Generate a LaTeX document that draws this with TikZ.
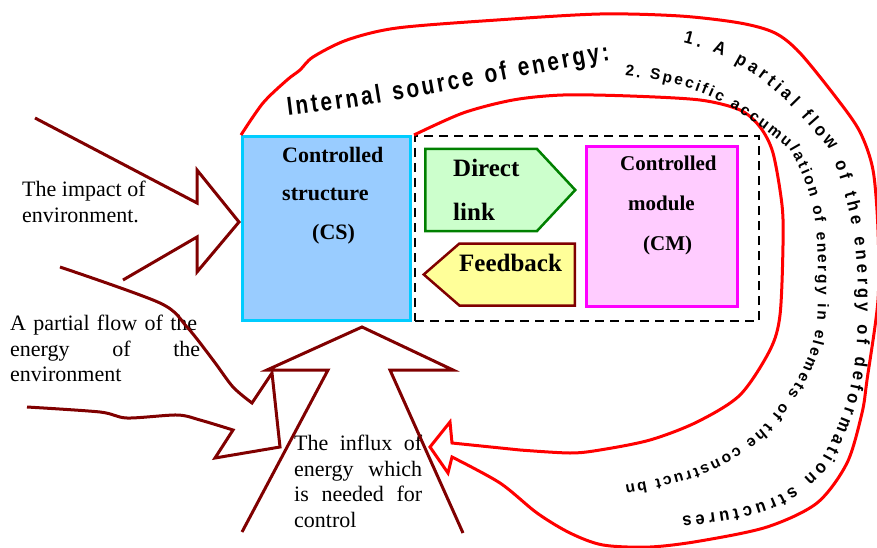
\documentclass[tikz,border=0pt]{standalone}
\usepackage{fontspec}
\setmainfont{Liberation Serif}
\setsansfont{Liberation Sans}
\usepackage{xcolor}
\usetikzlibrary{shapes.symbols,positioning,decorations.text}

\definecolor{csfill}{HTML}{99CCFF}
\definecolor{csedge}{HTML}{00CCFF}
\definecolor{linkfill}{HTML}{CCFFCC}
\definecolor{linkedge}{HTML}{008000}
\definecolor{fbfill}{HTML}{FFFF99}
\definecolor{darkred}{HTML}{800000}
\definecolor{cmfill}{HTML}{FFCCFF}
\definecolor{cmedge}{HTML}{FF00FF}

\newfontfamily\bandnarrow[FakeStretch=0.8]{Liberation Sans}
\newfontfamily\bandmedium[FakeStretch=0.92]{Liberation Sans}
\newcommand{\bandbig}{\bandnarrow\bfseries\fontsize{26}{26}\selectfont}
\newcommand{\bandmid}{\bandmedium\bfseries\fontsize{18}{18}\selectfont}
\newcommand{\bandsmall}{\sffamily\bfseries\fontsize{15.5}{15.5}\selectfont}

\begin{document}
\begin{tikzpicture}[x=1pt, y=-1pt,
    box/.style={rectangle, draw, line width=3pt, inner sep=0pt},
    signbox/.style={signal, draw, line width=2.5pt, inner sep=0pt},
    boxtext/.style={font=\bfseries\fontsize{22}{38.5}\selectfont, align=left, inner sep=0pt, anchor=north west},
    plaintext/.style={font=\fontsize{22}{25.5}\selectfont, align=left, inner sep=0pt, anchor=north west},
    flow/.style={draw=darkred, line width=3pt},
    loop/.style={draw=red, line width=3pt},
    bandtext/.style={decorate, decoration={text along path, text align={fit to path}, text={#1}}}
]
\useasboundingbox (0,0) rectangle (877,548);

% Control loop: structure, links, module
\node[box, draw=black, line width=2pt, dash pattern=on 9pt off 6pt, minimum width=344pt, minimum height=185pt] (loopbox) at (587,228.5) {};
\node[box, draw=csedge, fill=csfill, minimum width=168pt, minimum height=184pt] (cs) at (326.5,228.5) {};
\node[box, draw=cmedge, fill=cmfill, minimum width=151pt, minimum height=160pt] (cm) at (662,226.5) {};
\node[signbox, draw=linkedge, fill=linkfill, signal to=east, signal pointer angle=94, minimum width=150pt, minimum height=82pt, anchor=west] (direct) at (424,190) {};
\node[signbox, draw=darkred, fill=fbfill, signal to=west, signal pointer angle=82, minimum width=151pt, minimum height=62pt, anchor=east] (feedback) at (576,274.5) {};

\node[boxtext, below right=12pt and 41pt of cs.north west] (cstext) {Controlled\\structure\\\hspace*{30pt}(CS)};
\node[boxtext, font=\bfseries\fontsize{25}{44}\selectfont] (directtext) at (453,159) {Direct\\link};
\node[boxtext, font=\bfseries\fontsize{25}{25}\selectfont] (fbtext) at (459,254) {Feedback};
\node[boxtext, font=\bfseries\fontsize{21}{40}\selectfont] (cmtext) at (620,156) {Controlled\\\hspace*{8pt}module\\\hspace*{23pt}(CM)};

% Environment side
\node[plaintext] (impact) at (22,181) {The impact of\\environment.};
\node[plaintext, text width=190pt] (partial) at (10,315) {A partial flow of the\\energy\hfill of\hfill the\\environment};
\node[plaintext, text width=128pt] (influx) at (294,435) {The\hfill influx\hfill of\\energy\hfill which\\is\hfill needed\hfill for\\control};

% Block arrows from outside
\draw[flow] (35,118) -- (197,203) -- (197,170) -- (239,222) -- (197,272) -- (197,237) -- (123,280);
\draw[flow] plot[smooth] coordinates {(60,267) (160,303) (187,327) (213,360) (233,387) (252,403)}
    -- (272,373) -- (280,447) -- (215,458)
    -- plot[smooth] coordinates {(233,430) (200,420) (177,415) (127,418) (100,412) (27,407)};
\draw[flow] (242,532) -- (328,370) -- (267,370) -- (362,327) -- (453,370) -- (390,370) -- (463,533);

% Internal source of energy (band around the loop)
\draw[loop] plot[smooth] coordinates {(cs.north west) (263,103) (287,80) (300,70) (313,57) (347,40) (397,28)
      (497,20) (600,14) (680,16) (740,23) (775,33) (800,53) (838,100) (860,132) (873,170) (878,230)
      (878,300) (867,380) (862,413) (847,463) (817,503) (767,527) (700,541) (650,547) (603,545)
      (570,533) (537,513) (500,483) (452,457)}
    -- (448,473) -- (430,447) -- (450,422) -- (452,443)
    -- plot[smooth] coordinates {(520,450) (570,453) (600,450) (650,440) (697,422) (740,395) (770,350)
      (780,315) (783,245) (782,205) (773,153) (760,127) (740,110) (700,100) (630,96) (563,95)
      (513,100) (463,113) (loopbox.north west)};

\begin{scope}[y=1pt]
\path[bandtext={|\bandbig|Internal source of energy:}]
    (288,-116) to[out=7, in=190] (610,-60);
\path[bandtext={|\bandmid|1. A partial flow of the energy of deformation structures}]
    (683,-43) to[out=-14, in=130] (830,-150) to[out=-70, in=90] (858,-300)
    to[out=-90, in=60] (820,-462) to[out=-130, in=7] (682,-517);
\path[bandtext={|\bandsmall|2. Specific accumulation of energy in elemets of the construct bn}]
    (625,-76) to[out=-5, in=140] (790,-150) to[out=-60, in=90] (818,-300)
    to[out=-90, in=50] (760,-430) to[out=-140, in=10] (625,-485);
\end{scope}

\end{tikzpicture}
\end{document}
